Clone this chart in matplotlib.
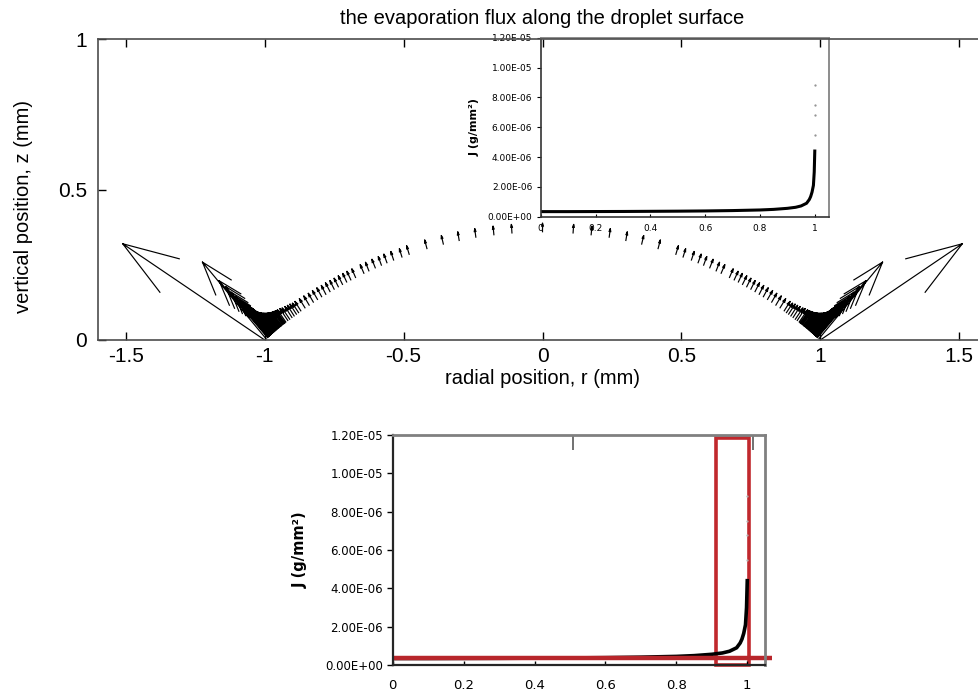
import numpy as np
import matplotlib
matplotlib.use("Agg")
import matplotlib.pyplot as plt
from matplotlib.patches import Rectangle

plt.rcParams['font.family'] = ['Liberation Sans', 'DejaVu Sans']
plt.rcParams['axes.unicode_minus'] = False

# flux arrows on the left half of the droplet (right half is the mirror image)
r_left = [-1.000, -0.995, -0.990, -0.9885, -0.987, -0.9855, -0.984, -0.9825, -0.981, -0.9795,
          -0.978, -0.9765, -0.975, -0.973, -0.971, -0.969, -0.967, -0.965, -0.963, -0.9605,
          -0.958, -0.9555, -0.953, -0.9505, -0.948, -0.945, -0.942, -0.939, -0.936, -0.933,
          -0.930, -0.927, -0.924, -0.917, -0.910, -0.902, -0.894, -0.886, -0.878, -0.870,
          -0.855, -0.840, -0.825, -0.810, -0.795, -0.780, -0.765, -0.750, -0.735, -0.720,
          -0.705, -0.690, -0.673, -0.643, -0.625, -0.602, -0.580, -0.560, -0.536, -0.506,
          -0.480, -0.416, -0.357, -0.300, -0.240, -0.175, -0.110]
z_left = [0.000, 0.004, 0.008, 0.0095, 0.011, 0.012, 0.013, 0.0145, 0.016, 0.017,
          0.018, 0.0195, 0.021, 0.0225, 0.024, 0.0255, 0.027, 0.0285, 0.030, 0.032,
          0.034, 0.036, 0.038, 0.040, 0.042, 0.044, 0.046, 0.048, 0.051, 0.053,
          0.055, 0.057, 0.060, 0.065, 0.069, 0.075, 0.080, 0.086, 0.091, 0.097,
          0.107, 0.116, 0.126, 0.135, 0.144, 0.152, 0.161, 0.169, 0.177, 0.185,
          0.193, 0.200, 0.208, 0.222, 0.230, 0.240, 0.249, 0.257, 0.266, 0.276,
          0.285, 0.304, 0.319, 0.331, 0.342, 0.350, 0.356]
u_left = [-0.511, -0.229, -0.174, -0.152, -0.134, -0.120, -0.107, -0.100, -0.093, -0.086,
          -0.079, -0.074, -0.069, -0.065, -0.062, -0.058, -0.055, -0.052, -0.050, -0.048,
          -0.046, -0.044, -0.042, -0.040, -0.039, -0.037, -0.036, -0.035, -0.034, -0.033,
          -0.032, -0.031, -0.030, -0.028, -0.027, -0.025, -0.024, -0.023, -0.022, -0.021,
          -0.020, -0.019, -0.018, -0.018, -0.017, -0.016, -0.016, -0.015, -0.015, -0.015,
          -0.014, -0.014, -0.013, -0.013, -0.012, -0.012, -0.011, -0.011, -0.010, -0.009,
          -0.009, -0.008, -0.007, -0.005, -0.004, -0.003, -0.002]
v_left = [0.320, 0.255, 0.189, 0.168, 0.148, 0.133, 0.119, 0.112, 0.105, 0.097,
          0.090, 0.084, 0.079, 0.075, 0.072, 0.068, 0.065, 0.062, 0.060, 0.057,
          0.055, 0.053, 0.051, 0.049, 0.048, 0.046, 0.045, 0.044, 0.043, 0.042,
          0.041, 0.040, 0.040, 0.039, 0.037, 0.036, 0.035, 0.033, 0.031, 0.031,
          0.030, 0.030, 0.029, 0.029, 0.029, 0.029, 0.029, 0.028, 0.028, 0.028,
          0.028, 0.028, 0.028, 0.028, 0.028, 0.028, 0.028, 0.028, 0.028, 0.027,
          0.028, 0.028, 0.028, 0.028, 0.028, 0.028, 0.028]
# arrow at the apex
r_top = [0.0]
z_top = [0.360]
u_top = [0.0]
v_top = [0.028]

# evaporation flux J(r) (inset and enlarged copy)
r_flux = [0.0, 0.1, 0.2, 0.3, 0.4, 0.5, 0.6, 0.7, 0.8, 0.85, 0.9, 0.93, 0.95,
          0.97, 0.98, 0.985, 0.99, 0.995, 0.998, 1.0]
J_flux = [3.4e-7, 3.4e-7, 3.45e-7, 3.5e-7, 3.6e-7, 3.7e-7, 3.85e-7, 4.1e-7, 4.5e-7,
          4.9e-7, 5.6e-7, 6.3e-7, 7.2e-7, 9.0e-7, 1.15e-6, 1.35e-6, 1.65e-6, 2.1e-6,
          3.0e-6, 4.4e-6]
r_spikes = [0.999, 0.999, 0.999, 0.999]
J_spikes = [5.5e-6, 6.8e-6, 7.5e-6, 8.8e-6]

J_ticks = [0, 2e-6, 4e-6, 6e-6, 8e-6, 1e-5, 1.2e-5]
J_ticklabels = ['0.00E+00', '2.00E-06', '4.00E-06', '6.00E-06', '8.00E-06', '1.00E-05', '1.20E-05']
r_ticks = [0, 0.2, 0.4, 0.6, 0.8, 1]
r_ticklabels = ['0', '0.2', '0.4', '0.6', '0.8', '1']

# red highlight on the enlarged copy
box_r = [0.913, 1.004]
box_J = [0.0, 1.183e-5]
band_r = [0.0, 1.07]
band_J = [3.5e-7, 3.5e-7]


def quiver_lines(x, y, u, v, alpha=0.33, beta=0.33):
    # matlab-style arrows: shaft + two barbs, in data units
    x, y, u, v = map(np.asarray, (x, y, u, v))
    tx, ty = x + u, y + v
    nan = np.full_like(x, np.nan)
    xs = np.column_stack([x, tx, nan, tx - alpha * (u + beta * v), tx,
                          tx - alpha * (u - beta * v), nan]).ravel()
    ys = np.column_stack([y, ty, nan, ty - alpha * (v - beta * u), ty,
                          ty - alpha * (v + beta * u), nan]).ravel()
    return xs, ys


fig = plt.figure(figsize=(9.79, 6.99), dpi=100)

# ---- inset (drawn under the main axes so the main ticks show on it) ----
ax_in = fig.add_axes([0.5523, 0.69, 0.2948, 0.2561], zorder=1)
ax_in.plot(r_flux, J_flux, color='black', lw=2.2)
ax_in.plot(r_spikes, J_spikes, ls='none', marker='.', ms=1.2, color='0.55')
ax_in.set_xlim(0, 1.053)
ax_in.set_ylim(0, 1.2e-5)
ax_in.set_yticks(J_ticks)
ax_in.set_yticklabels(J_ticklabels, family='DejaVu Sans', fontsize=6.5)
ax_in.set_xticks(r_ticks)
ax_in.set_xticklabels(r_ticklabels, family='DejaVu Sans', fontsize=6.5)
ax_in.tick_params(axis='y', direction='out', length=3, width=0.8, pad=3)
ax_in.tick_params(axis='x', direction='in', length=2, width=0.8, pad=5)
ax_in.set_ylabel('J (g/mm²)', fontsize=8, fontweight='bold', family='DejaVu Sans')
ax_in.yaxis.set_label_coords(-0.21, 0.5)
for side in ['top', 'right']:
    ax_in.spines[side].set_color('0.55')
    ax_in.spines[side].set_linewidth(1.4)
for side in ['left', 'bottom']:
    ax_in.spines[side].set_color('0.2')
    ax_in.spines[side].set_linewidth(1.2)

# ---- main axes: flux vectors along the surface ----
ax = fig.add_axes([0.1001, 0.5136, 0.9081, 0.4302], zorder=2)
ax.patch.set_visible(False)
r_all = list(r_left) + [-r for r in r_left] + r_top
z_all = list(z_left) + list(z_left) + z_top
u_all = list(u_left) + [-u for u in u_left] + u_top
v_all = list(v_left) + list(v_left) + v_top
xs, ys = quiver_lines(r_all, z_all, u_all, v_all)
ax.plot(xs, ys, color='black', lw=0.85)

ax.set_xlim(-1.6, 1.6)
ax.set_ylim(0, 1)
ax.set_xticks([-1.5, -1, -0.5, 0, 0.5, 1, 1.5])
ax.set_xticklabels(['-1.5', '-1', '-0.5', '0', '0.5', '1', '1.5'])
ax.set_yticks([0, 0.5, 1])
ax.set_yticklabels(['0', '0.5', '1'])
ax.tick_params(direction='in', top=True, right=True, length=6, width=1, labelsize=15)
ax.tick_params(axis='x', pad=5)
ax.tick_params(axis='y', pad=8)
for s in ax.spines.values():
    s.set_color('0.3')
    s.set_linewidth(1.2)
ax.set_title('the evaporation flux along the droplet surface', fontsize=14.5, pad=11)
ax.set_xlabel('radial position, r (mm)', fontsize=14.5, labelpad=2)
ax.set_ylabel('vertical position, z (mm)', fontsize=14.5)
ax.yaxis.set_label_coords(-0.073, 0.444)

# ---- enlarged copy of the inset with the red highlights ----
ax_b = fig.add_axes([0.4011, 0.0486, 0.3803, 0.329])
ax_b.plot(r_flux, J_flux, color='black', lw=2.6)
ax_b.plot(r_spikes, J_spikes, ls='none', marker='.', ms=1.2, color='0.7')
ax_b.plot(band_r, band_J, color='#b8262b', lw=3.2, clip_on=False, solid_capstyle='butt')
ax_b.add_patch(Rectangle((box_r[0], box_J[0]), box_r[1] - box_r[0], box_J[1] - box_J[0],
                         fill=False, edgecolor='#c0282d', lw=2.6, clip_on=False))
ax_b.set_xlim(0, 1.05)
ax_b.set_ylim(0, 1.2e-5)
ax_b.set_yticks(J_ticks)
ax_b.set_yticklabels(J_ticklabels, family='DejaVu Sans', fontsize=8.5)
ax_b.set_xticks(r_ticks)
ax_b.set_xticklabels(r_ticklabels, family='DejaVu Sans', fontsize=9.5)
ax_b.tick_params(axis='y', direction='out', length=4, width=1, pad=3)
ax_b.tick_params(axis='x', direction='in', length=3, width=1, pad=10)
ax_b.set_ylabel('J (g/mm²)', fontsize=10.5, fontweight='bold', family='DejaVu Sans')
ax_b.yaxis.set_label_coords(-0.2275, 0.5)
top_b = ax_b.secondary_xaxis('top')
top_b.set_xticks([0.508, 1.015])
top_b.set_xticklabels([])
top_b.tick_params(direction='in', length=11, width=1.2, color='0.35')
top_b.spines['top'].set_visible(False)
for side in ['top', 'right']:
    ax_b.spines[side].set_color('0.5')
    ax_b.spines[side].set_linewidth(2)
for side in ['left', 'bottom']:
    ax_b.spines[side].set_color('0.15')
    ax_b.spines[side].set_linewidth(1.6)

fig.savefig('out.png', dpi=100)
